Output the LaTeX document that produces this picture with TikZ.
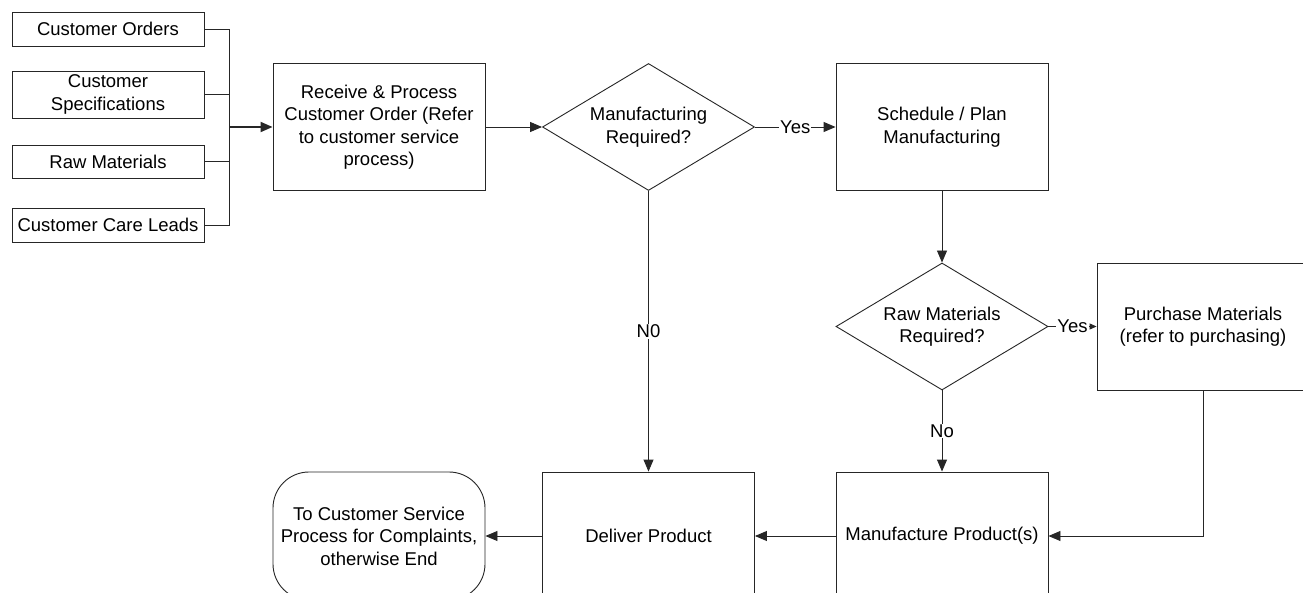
\documentclass[tikz,border=0pt]{standalone}
\usepackage{fontspec}
\setmainfont{Liberation Sans}
\usetikzlibrary{shapes.geometric,arrows.meta}
\begin{document}
\begin{tikzpicture}[x=1pt,y=-1pt,
  font=\fontsize{18.5}{22.5}\selectfont,
  every node/.style={inner sep=0pt, align=center},
  line/.style={draw=black!85, line width=0.9pt},
  inbox/.style={line, rectangle, minimum width=192pt},
  procbox/.style={line, rectangle, minimum width=212pt, minimum height=127pt},
  decision/.style={line, diamond, minimum width=212pt, minimum height=127pt, aspect=1.67},
  terminal/.style={line, rectangle, rounded corners=36pt, minimum width=212pt, minimum height=128pt},
  conn/.style={line, -{Triangle[length=12pt,width=10pt]}},
  connsmall/.style={line, -{Triangle[length=7pt,width=6pt]}},
  lbl/.style={fill=white, inner sep=1pt}
]
\useasboundingbox (0,0) rectangle (1303,593);
\fill[white] (0,0) rectangle (1303,593);

% input boxes
\node[inbox, minimum height=34pt] (co) at (108,29) {Customer Orders};
\node[inbox, minimum height=47pt] (cs) at (108,94.5) {Customer\\Specifications};
\node[inbox, minimum height=33pt] (rm) at (108,161.5) {Raw Materials};
\node[inbox, minimum height=34pt] (cl) at (108,225) {Customer Care Leads};

% main flow
\node[procbox] (rec) at (379,127) {Receive \& Process\\Customer Order (Refer\\to customer service\\process)};
\node[decision] (d1) at (648.5,127) {Manufacturing\\Required?};
\node[procbox] (sch) at (942,127) {Schedule / Plan\\Manufacturing};
\node[decision] (d2) at (942,326.5) {Raw Materials\\Required?};
\node[procbox] (pur) at (1203,326.5) {Purchase Materials\\(refer to purchasing)};
\node[terminal] (end) at (379,536) {To Customer Service\\Process for Complaints,\\otherwise End};
\node[procbox, minimum height=128pt] (del) at (648.5,536) {Deliver Product};
\node[procbox, minimum height=128pt] (man) at (942,536) {Manufacture Product(s)};

% bus
\coordinate (bus) at (229,127);
\draw[line] (co.east) -| (bus);
\draw[line] (cs.east) -| (bus);
\draw[line] (rm.east) -| (bus);
\draw[line] (cl.east) -| (bus);
\draw[line, line width=1.8pt, -{Triangle[length=12pt,width=10pt]}] (bus) -- (rec.west);

% connectors
\draw[conn] (rec.east) -- (d1.west);
\draw[conn] (d1.east) -- node[lbl] {Yes} (sch.west);
\draw[conn] (sch.south) -- (d2.north);
\draw[connsmall] (d2.east) -- node[lbl] {Yes} (pur.west);
\draw[conn] (d1.south) -- node[lbl] {N0} (del.north);
\draw[conn] (d2.south) -- node[lbl] {No} (man.north);
\draw[conn] (pur.south) |- (man.east);
\draw[conn] (man.west) -- (del.east);
\draw[conn] (del.west) -- (end.east);
\end{tikzpicture}
\end{document}
